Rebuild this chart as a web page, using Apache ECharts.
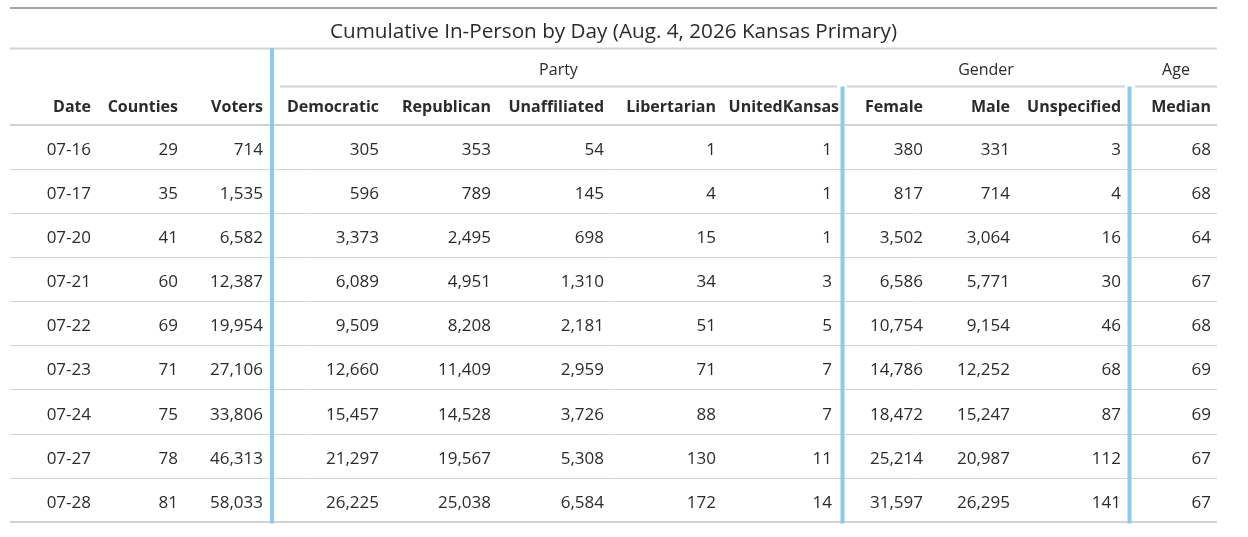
<!DOCTYPE html>
<html>
<head>
<meta charset="utf-8">
<script src="https://cdn.jsdelivr.net/npm/echarts@6/dist/echarts.min.js"></script>
<style>
html, body { margin: 0; padding: 0; background: #fff; }
#chart { width: 1248px; height: 537px; }
</style>
</head>
<body>
<div id="chart"></div>
<script>
// table values
var dates = ['07-16', '07-17', '07-20', '07-21', '07-22', '07-23', '07-24', '07-27', '07-28'];
var counties = [29, 35, 41, 60, 69, 71, 75, 78, 81];
var voters = [714, 1535, 6582, 12387, 19954, 27106, 33806, 46313, 58033];
var democratic = [305, 596, 3373, 6089, 9509, 12660, 15457, 21297, 26225];
var republican = [353, 789, 2495, 4951, 8208, 11409, 14528, 19567, 25038];
var unaffiliated = [54, 145, 698, 1310, 2181, 2959, 3726, 5308, 6584];
var libertarian = [1, 4, 15, 34, 51, 71, 88, 130, 172];
var unitedKansas = [1, 1, 1, 3, 5, 7, 7, 11, 14];
var female = [380, 817, 3502, 6586, 10754, 14786, 18472, 25214, 31597];
var male = [331, 714, 3064, 5771, 9154, 12252, 15247, 20987, 26295];
var unspecified = [3, 4, 16, 30, 46, 68, 87, 112, 141];
var medianAge = [68, 68, 64, 67, 68, 69, 69, 67, 67];

var columnNames = ['Date', 'Counties', 'Voters', 'Democratic', 'Republican', 'Unaffiliated',
    'Libertarian', 'UnitedKansas', 'Female', 'Male', 'Unspecified', 'Median'];
var groupNames = ['Party', 'Gender', 'Age'];
var titleText = 'Cumulative In-Person by Day (Aug. 4, 2026 Kansas Primary)';

var columns = [dates, counties, voters, democratic, republican, unaffiliated,
    libertarian, unitedKansas, female, male, unspecified, medianAge];

// layout (x in axis units = px from the table's left edge)
var colRight = [81, 168, 253, 369, 481, 594, 706, 822, 913, 1000, 1111, 1201];
var headRight = [81, 168, 253, 369, 481, 594, 706, 829, 913, 1000, 1111, 1201];
var groupSpan = [[270, 827], [837, 1115], [1125, 1207]];
var sepX = [262, 832.5, 1119.5];
var FONT = '"Open Sans", "Noto Sans", sans-serif';
var TXT = '#2b2b2b';
var LINE = '#d3d3d3';
var BLUE = '#8ecbea';

function fmt(v) {
    return typeof v === 'number' ? v.toLocaleString('en-US') : v;
}

var cellData = [];
for (let r = 0; r < dates.length; r++) {
    for (let c = 0; c < columns.length; c++) {
        cellData.push([c, r]);
    }
}

function renderCell(params, api) {
    var c = api.value(0), r = api.value(1);
    var p = api.coord([colRight[c], r]);
    return {
        type: 'text',
        x: p[0],
        y: p[1] + 3,
        style: {
            text: fmt(columns[c][r]),
            textAlign: 'right',
            textVerticalAlign: 'middle',
            font: '17px ' + FONT,
            fill: TXT
        }
    };
}

function renderFrame(params, api) {
    var cs = params.coordSys;
    var top = cs.y, left = cs.x, right = cs.x + cs.width, bottom = cs.y + cs.height;
    var kids = [];
    function hline(x1, x2, y, w, color) {
        kids.push({ type: 'line', shape: { x1: x1, y1: y, x2: x2, y2: y }, style: { stroke: color, lineWidth: w } });
    }
    function vline(x, y1, y2, w, color) {
        kids.push({ type: 'line', shape: { x1: x, y1: y1, x2: x, y2: y2 }, style: { stroke: color, lineWidth: w } });
    }
    function text(str, x, y, align, font) {
        kids.push({ type: 'text', x: x, y: y, style: { text: str, textAlign: align, textVerticalAlign: 'middle', font: font, fill: TXT } });
    }
    function px(v) { return api.coord([v, 0])[0]; }

    hline(left, right, top - 117, 2, '#a6a6a6');
    text(titleText, (left + right) / 2, top - 93, 'center', '20.7px ' + FONT);
    hline(left, right, top - 76.5, 2, LINE);
    groupSpan.forEach(function (g, i) {
        text(groupNames[i], (px(g[0]) + px(g[1])) / 2, top - 55, 'center', '16px ' + FONT);
        hline(px(g[0]), px(g[1]), top - 38.5, 2, LINE);
    });
    columnNames.forEach(function (n, i) {
        text(n, px(headRight[i]), top - 18, 'right', 'bold 16px ' + FONT);
    });
    hline(left, right, top, 2, LINE);
    hline(left, right, bottom, 2, LINE);
    sepX.forEach(function (x, i) {
        vline(px(x), i === 0 ? top - 77 : top - 38.5, bottom + 1.5, 4, BLUE);
    });
    return { type: 'group', children: kids };
}

var chart = echarts.init(document.getElementById('chart'));
var option = {
    animation: false,
    grid: { left: 10, right: 31, top: 125, bottom: 15 },
    xAxis: { type: 'value', min: 0, max: 1207, show: false },
    yAxis: {
        type: 'category',
        data: dates,
        inverse: true,
        axisLine: { show: false },
        axisTick: { show: false },
        axisLabel: { show: false },
        splitLine: { show: true, lineStyle: { color: LINE, width: 1 } }
    },
    series: [
        { type: 'custom', name: 'cells', data: cellData, renderItem: renderCell, z: 2 },
        { type: 'custom', name: 'frame', data: [[0, 0]], renderItem: renderFrame, z: 3, silent: true }
    ]
};
chart.setOption(option);
</script>
</body>
</html>
